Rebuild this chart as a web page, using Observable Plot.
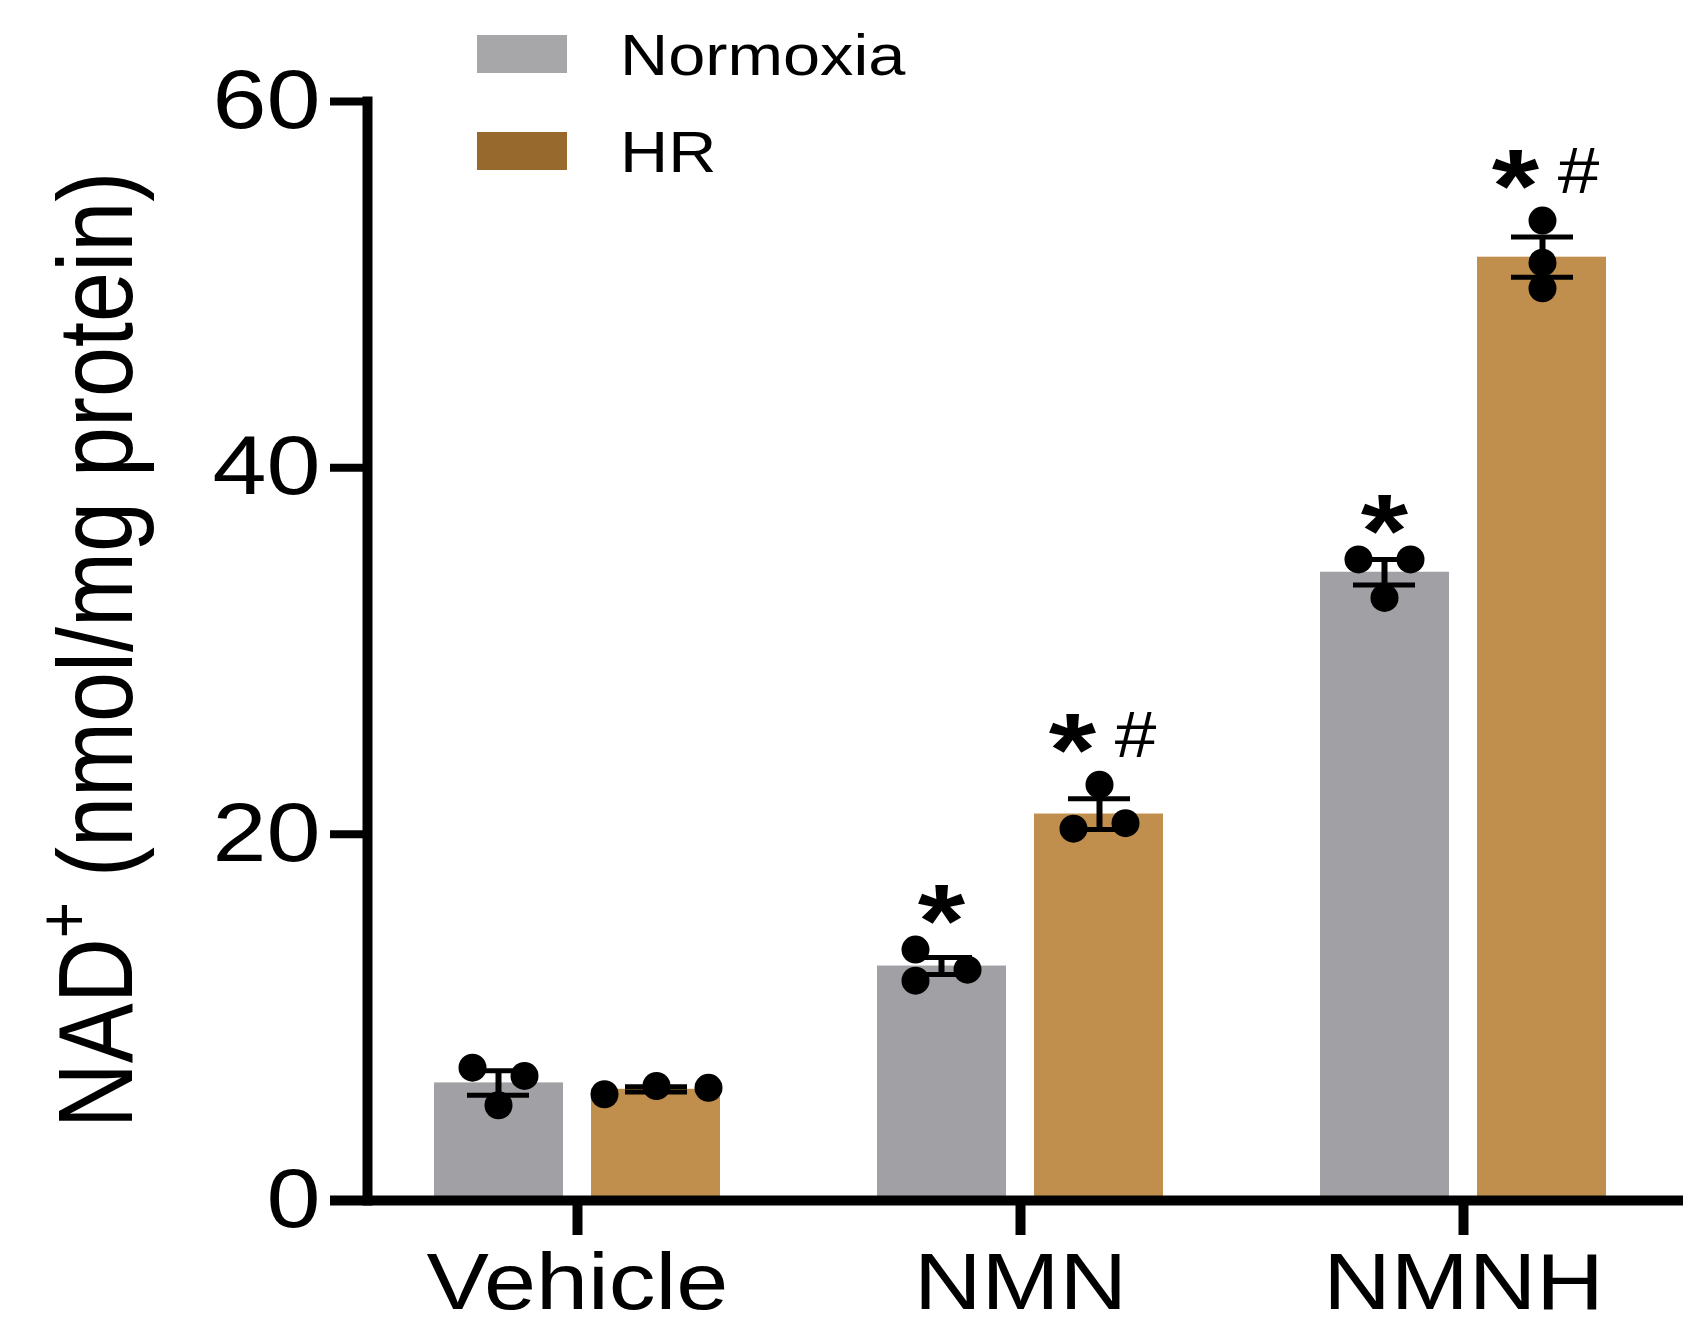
<!DOCTYPE html>
<html>
<head>
<meta charset="utf-8">
<script src="https://cdn.jsdelivr.net/npm/d3@7"></script>
<script src="https://cdn.jsdelivr.net/npm/@observablehq/plot@0.6"></script>
<style>
  html, body { margin: 0; padding: 0; background: #fff; overflow: hidden; }
  #wrap { position: relative; width: 1683px; height: 1327px; font-family: "Liberation Sans", Arial, sans-serif; }
  .leg-sw { position: absolute; left: 477px; width: 90px; height: 38px; }
  .leg-tx { position: absolute; left: 620px; font-size: 57px; line-height: 57px; color: #000; transform: scaleX(1.17); transform-origin: left center; white-space: nowrap; }
</style>
</head>
<body>
<div id="wrap"></div>
<script>
// ---- data ----
const groups = ["Vehicle", "NMN", "NMNH"];
const conditions = ["Normoxia", "HR"];
const yTicks = [0, 20, 40, 60];

const normoxiaMean = [6.42, 12.8, 34.3];
const normoxiaSem = [0.67, 0.46, 0.7];
const hrMean = [6.07, 21.1, 51.5];
const hrSem = [0.14, 0.84, 1.1];

const normoxiaPoints = [[7.25, 6.8, 5.2], [13.7, 12.6, 12.0], [35.0, 35.0, 32.9]];
const hrPoints = [[5.8, 6.25, 6.15], [22.7, 20.3, 20.6], [53.5, 51.2, 49.8]];
// side-by-side arrangement index of each point (scatter spreading)
const normoxiaSlots = [[-1, 1, 0], [-1, 1, -1], [-1, 1, 0]];
const hrSlots = [[-2, 0, 2], [0, -1, 1], [0, 0, 0]];

const normoxiaSig = ["", "*", "*"];
const hrSig = ["", "*#", "*#"];

const yLabelMain = "NAD";
const yLabelSup = "+";
const yLabelRest = " (nmol/mg protein)";

// ---- styles ----
const colors = {Normoxia: "#a1a1a5", HR: "#c08f4d"};
const legendColors = {Normoxia: "#a7a7a9", HR: "#97692c"};
const sideOffset = {Normoxia: -79, HR: 79};
const K = 1.17; // horizontal stretch of the original figure's text

// ---- tables ----
const bars = [];
const points = [];
const sig = [];
groups.forEach((g, i) => {
  bars.push({group: g, cond: "Normoxia", mean: normoxiaMean[i], sem: normoxiaSem[i]});
  bars.push({group: g, cond: "HR", mean: hrMean[i], sem: hrSem[i]});
  normoxiaPoints[i].forEach((v, j) => points.push({group: g, cond: "Normoxia", value: v, slot: normoxiaSlots[i][j]}));
  hrPoints[i].forEach((v, j) => points.push({group: g, cond: "HR", value: v, slot: hrSlots[i][j]}));
  sig.push({group: g, cond: "Normoxia", label: normoxiaSig[i], top: d3.max(normoxiaPoints[i])});
  sig.push({group: g, cond: "HR", label: hrSig[i], top: d3.max(hrPoints[i])});
});

const marks = [];
// bars
marks.push(Plot.barY(bars.filter(d => d.cond === "Normoxia"), {x: "group", y: "mean", fill: colors.Normoxia, insetRight: 157}));
marks.push(Plot.barY(bars.filter(d => d.cond === "HR"), {x: "group", y: "mean", fill: colors.HR, insetLeft: 157}));
// error bars
for (const c of conditions) {
  const data = bars.filter(d => d.cond === c);
  marks.push(Plot.ruleX(data, {x: "group", y1: d => d.mean - d.sem, y2: d => d.mean + d.sem, dx: sideOffset[c], stroke: "#000", strokeWidth: 6}));
  const capIn = c === "Normoxia" ? {insetLeft: 33, insetRight: 191} : {insetLeft: 191, insetRight: 33};
  marks.push(Plot.tickY(data, {x: "group", y: d => d.mean + d.sem, stroke: "#000", strokeWidth: 5, ...capIn}));
  marks.push(Plot.tickY(data, {x: "group", y: d => d.mean - d.sem, stroke: "#000", strokeWidth: 5, ...capIn}));
}
// dots
for (const c of conditions) {
  for (const s of [-2, -1, 0, 1, 2]) {
    const data = points.filter(p => p.cond === c && p.slot === s);
    if (data.length) marks.push(Plot.dot(data, {x: "group", y: "value", r: 14, fill: "#000", stroke: "none", dx: sideOffset[c] + s * 26}));
  }
}
// significance marks
for (const c of conditions) {
  const data = sig.filter(d => d.cond === c && d.label.includes("*"));
  const both = data.filter(d => d.label.includes("#"));
  const single = data.filter(d => !d.label.includes("#"));
  marks.push(Plot.text(single, {x: "group", y: "top", text: () => "*", dx: sideOffset[c], dy: -26, fontSize: 104, fontWeight: "bold", lineAnchor: "middle"}));
  marks.push(Plot.text(both, {x: "group", y: "top", text: () => "*", dx: sideOffset[c] - 27, dy: -32, fontSize: 104, fontWeight: "bold", lineAnchor: "middle"}));
  marks.push(Plot.text(both, {x: "group", y: "top", text: () => "#", dx: sideOffset[c] + 36, dy: -48, fontSize: 64, lineAnchor: "middle"}));
}
// axes
marks.push(Plot.axisY({ticks: yTicks, tickSize: 37, tickPadding: 10, fontSize: 83, strokeWidth: 8, label: null, tickFormat: d => String(d)}));
marks.push(Plot.axisX({tickSize: 35, tickPadding: 17, fontSize: 80, strokeWidth: 10, label: null}));
marks.push(Plot.frame({anchor: "left", stroke: "#000", strokeWidth: 10}));
marks.push(Plot.ruleY([0], {stroke: "#000", strokeWidth: 10, insetLeft: -37, insetRight: -10}));

const svg = Plot.plot({
  width: 1683,
  height: 1327,
  marginLeft: 367,
  marginRight: 10,
  marginTop: 101,
  marginBottom: 127,
  style: {fontFamily: "'Liberation Sans', Arial, sans-serif", color: "#000", background: "#fff", overflow: "visible"},
  x: {domain: groups, paddingInner: 0.354, paddingOuter: 0.148, axis: null},
  y: {domain: [0, 60], axis: null},
  marks
});

// stretch text horizontally, as in the original figure
svg.querySelectorAll("text").forEach(t => {
  const tr = t.getAttribute("transform") || "";
  const xa = t.getAttribute("x");
  const x = xa && !xa.includes("em") ? parseFloat(xa) : 0;
  if (x) t.setAttribute("transform", `${tr} translate(${x},0) scale(${K},1) translate(${-x},0)`);
  else t.setAttribute("transform", `${tr} scale(${K},1)`);
});

// y-axis title with superscript
const NS = "http://www.w3.org/2000/svg";
const title = document.createElementNS(NS, "text");
title.setAttribute("transform", `translate(132,650) scale(${K},1) rotate(-90)`);
title.setAttribute("text-anchor", "middle");
title.setAttribute("font-size", "90");
title.setAttribute("fill", "#000");
title.setAttribute("font-family", "'Liberation Sans', Arial, sans-serif");
const t1 = document.createElementNS(NS, "tspan"); t1.textContent = yLabelMain;
const t2 = document.createElementNS(NS, "tspan"); t2.textContent = yLabelSup; t2.setAttribute("dy", "-38"); t2.setAttribute("font-size", "62");
const t3 = document.createElementNS(NS, "tspan"); t3.textContent = yLabelRest; t3.setAttribute("dy", "38");
title.append(t1, t2, t3);
svg.appendChild(title);

const wrap = document.getElementById("wrap");
wrap.appendChild(svg);

// legend
const legendTops = {Normoxia: 35, HR: 132};
for (const c of conditions) {
  const sw = document.createElement("div");
  sw.className = "leg-sw";
  sw.style.top = legendTops[c] + "px";
  sw.style.background = legendColors[c];
  wrap.appendChild(sw);
  const tx = document.createElement("div");
  tx.className = "leg-tx";
  tx.style.top = (legendTops[c] - 8) + "px";
  tx.textContent = c;
  wrap.appendChild(tx);
}
</script>
</body>
</html>
